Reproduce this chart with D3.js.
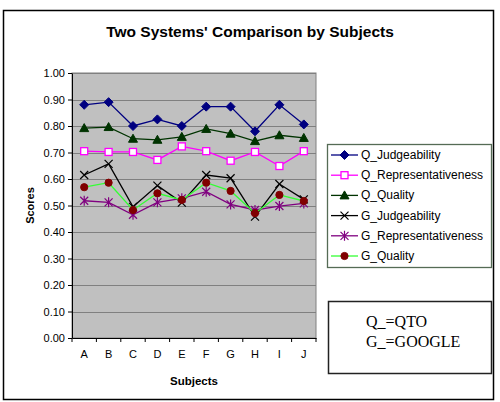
<!DOCTYPE html>
<html>
<head>
<meta charset="utf-8">
<script src="https://cdn.jsdelivr.net/npm/d3@7"></script>
<style>
	body { margin: 0; background: #fff; }
	text { font-family: Arial, "Liberation Sans", sans-serif; }
	.axis path, .axis line { stroke: #000; }
</style>
</head>
<body>
<div id="chart"></div>
<script>
/* global d3 */

var subjects = ['A', 'B', 'C', 'D', 'E', 'F', 'G', 'H', 'I', 'J'];
var yTicks = [0, 0.1, 0.2, 0.3, 0.4, 0.5, 0.6, 0.7, 0.8, 0.9, 1.0];

var qJudgeability        = [0.88, 0.89, 0.80, 0.825, 0.80, 0.873, 0.873, 0.78, 0.88, 0.806];
var qRepresentativeness  = [0.705, 0.702, 0.702, 0.672, 0.723, 0.705, 0.669, 0.702, 0.649, 0.705];
var qQuality             = [0.792, 0.796, 0.752, 0.748, 0.759, 0.789, 0.771, 0.743, 0.765, 0.755];
var gJudgeability        = [0.615, 0.657, 0.495, 0.575, 0.511, 0.615, 0.603, 0.458, 0.581, 0.523];
var gRepresentativeness  = [0.518, 0.512, 0.465, 0.512, 0.527, 0.552, 0.504, 0.483, 0.498, 0.508];
var gQuality             = [0.569, 0.586, 0.483, 0.546, 0.521, 0.586, 0.555, 0.471, 0.540, 0.517];

var seriesNames = ['Q_Judgeability', 'Q_Representativeness', 'Q_Quality',
	'G_Judgeability', 'G_Representativeness', 'G_Quality'];
var noteLines = ['Q_=QTO', 'G_=GOOGLE'];

(function () {
	'use strict';

	var W = 500, H = 402;
	var plot = {left: 72, right: 316, top: 73, bottom: 338};

	var series = [
		{name: seriesNames[0], values: qJudgeability, line: '#000080', marker: 'diamond', fill: '#000080', stroke: '#000080'},
		{name: seriesNames[1], values: qRepresentativeness, line: '#ff00ff', marker: 'square', fill: '#ffffff', stroke: '#ff00ff'},
		{name: seriesNames[2], values: qQuality, line: '#003300', marker: 'triangle', fill: '#003300', stroke: '#003300'},
		{name: seriesNames[3], values: gJudgeability, line: '#000000', marker: 'x', fill: 'none', stroke: '#000000'},
		{name: seriesNames[4], values: gRepresentativeness, line: '#800080', marker: 'star', fill: 'none', stroke: '#800080'},
		{name: seriesNames[5], values: gQuality, line: '#33ff33', marker: 'circle', fill: '#800000', stroke: '#800000'}
	];

	var x = d3.scaleBand().domain(subjects).range([plot.left, plot.right]);
	var y = d3.scaleLinear().domain([0, 1]).range([plot.bottom, plot.top]);

	var svg = d3.select('#chart').append('svg')
		.attr('width', W)
		.attr('height', H);

	// outer chart border
	svg.append('rect')
		.attr('x', 3.5).attr('y', 10.5)
		.attr('width', 490).attr('height', 389)
		.attr('fill', '#fff')
		.attr('stroke', '#000')
		.attr('stroke-width', 1.5);

	svg.append('text')
		.attr('x', 250).attr('y', 37)
		.attr('text-anchor', 'middle')
		.style('font-size', '15.5px')
		.style('font-weight', 'bold')
		.text("Two Systems' Comparison by Subjects");

	// plot area + grid
	svg.append('rect')
		.attr('x', plot.left).attr('y', plot.top)
		.attr('width', plot.right - plot.left)
		.attr('height', plot.bottom - plot.top)
		.attr('fill', '#c0c0c0')
		.attr('stroke', '#808080');

	svg.append('g').selectAll('line')
		.data(yTicks.filter(function (d) { return d > 0; }))
		.enter().append('line')
			.attr('x1', plot.left).attr('x2', plot.right)
			.attr('y1', function (d) { return Math.round(y(d)) + 0.5; })
			.attr('y2', function (d) { return Math.round(y(d)) + 0.5; })
			.attr('stroke', '#808080');

	// axes
	var yAxis = svg.append('g')
		.attr('class', 'axis')
		.attr('transform', 'translate(' + plot.left + ',0)')
		.call(d3.axisLeft(y).tickValues(yTicks).tickFormat(d3.format('.2f')).tickSize(4).tickSizeOuter(0));
	yAxis.selectAll('text').style('font-size', '11px').attr('fill', '#000');

	var xAxis = svg.append('g')
		.attr('class', 'axis')
		.attr('transform', 'translate(0,' + plot.bottom + ')')
		.call(d3.axisBottom(x).tickSize(0).tickPadding(12));
	xAxis.selectAll('text').style('font-size', '11px').attr('fill', '#000');
	xAxis.selectAll('.bound')
		.data(d3.range(subjects.length + 1))
		.enter().append('line')
			.attr('class', 'bound')
			.attr('x1', function (i) { return plot.left + i * x.bandwidth(); })
			.attr('x2', function (i) { return plot.left + i * x.bandwidth(); })
			.attr('y1', 0).attr('y2', 4)
			.attr('stroke', '#000');

	svg.append('text')
		.attr('transform', 'translate(34,' + ((plot.top + plot.bottom) / 2) + ') rotate(-90)')
		.attr('text-anchor', 'middle')
		.style('font-size', '11px')
		.style('font-weight', 'bold')
		.text('Scores');

	svg.append('text')
		.attr('x', (plot.left + plot.right) / 2).attr('y', 385)
		.attr('text-anchor', 'middle')
		.style('font-size', '11.5px')
		.style('font-weight', 'bold')
		.text('Subjects');

	function drawMarker(g, s) {
		if (s.marker === 'x') {
			g.append('path').attr('d', 'M-4,-4L4,4M-4,4L4,-4')
				.attr('stroke', s.stroke).attr('stroke-width', 1.2).attr('fill', 'none');
		} else if (s.marker === 'star') {
			g.append('path').attr('d', 'M-4,-4L4,4M-4,4L4,-4M0,-5L0,5')
				.attr('stroke', s.stroke).attr('stroke-width', 1.2).attr('fill', 'none');
		} else if (s.marker === 'square') {
			g.append('rect').attr('x', -3.5).attr('y', -3.5).attr('width', 7).attr('height', 7)
				.attr('fill', s.fill).attr('stroke', s.stroke).attr('stroke-width', 1.3);
		} else if (s.marker === 'diamond') {
			g.append('path').attr('d', 'M0,-4.5L4.5,0L0,4.5L-4.5,0Z')
				.attr('fill', s.fill).attr('stroke', s.stroke);
		} else if (s.marker === 'triangle') {
			g.append('path').attr('d', 'M0,-4.5L4.5,3.5L-4.5,3.5Z')
				.attr('fill', s.fill).attr('stroke', s.stroke);
		} else {
			g.append('circle').attr('r', 3.6)
				.attr('fill', s.fill).attr('stroke', s.stroke);
		}
	}

	var line = d3.line()
		.x(function (d, i) { return x(subjects[i]) + x.bandwidth() / 2; })
		.y(function (d) { return y(d); });

	var groups = svg.selectAll('.series')
		.data(series)
		.enter().append('g')
			.attr('class', 'series');

	groups.append('path')
		.attr('d', function (d) { return line(d.values); })
		.attr('fill', 'none')
		.attr('stroke', function (d) { return d.line; })
		.attr('stroke-width', 1.3);

	groups.each(function (s) {
		var g = d3.select(this);
		s.values.forEach(function (v, i) {
			var m = g.append('g')
				.attr('transform', 'translate(' + (x(subjects[i]) + x.bandwidth() / 2) + ',' + y(v) + ')');
			drawMarker(m, s);
		});
	});

	// legend
	var legend = svg.append('g').attr('transform', 'translate(327,144)');
	legend.append('rect')
		.attr('x', 0.5).attr('y', 0.5)
		.attr('width', 164).attr('height', 123)
		.attr('fill', '#fff')
		.attr('stroke', '#556b55')
		.attr('stroke-width', 1.3);

	var items = legend.selectAll('.item')
		.data(series)
		.enter().append('g')
			.attr('class', 'item')
			.attr('transform', function (d, i) { return 'translate(0,' + (11 + i * 20.2) + ')'; });

	items.append('line')
		.attr('x1', 4).attr('x2', 31)
		.attr('stroke', function (d) { return d.line; })
		.attr('stroke-width', 1.3);
	items.each(function (s) {
		var m = d3.select(this).append('g').attr('transform', 'translate(17.5,0)');
		drawMarker(m, s);
	});
	items.append('text')
		.attr('x', 34).attr('y', 4)
		.style('font-size', '12px')
		.text(function (d) { return d.name; });

	// note box
	var note = svg.append('g').attr('transform', 'translate(328,301)');
	note.append('rect')
		.attr('x', 0.5).attr('y', 0.5)
		.attr('width', 163).attr('height', 72)
		.attr('fill', '#fff')
		.attr('stroke', '#222')
		.attr('stroke-width', 1.5);
	note.selectAll('text')
		.data(noteLines)
		.enter().append('text')
			.attr('x', 38)
			.attr('y', function (d, i) { return 26 + i * 20; })
			.style('font-family', '"Liberation Serif", "Times New Roman", serif')
			.style('font-size', '16px')
			.text(function (d) { return d; });
})();
</script>
</body>
</html>
